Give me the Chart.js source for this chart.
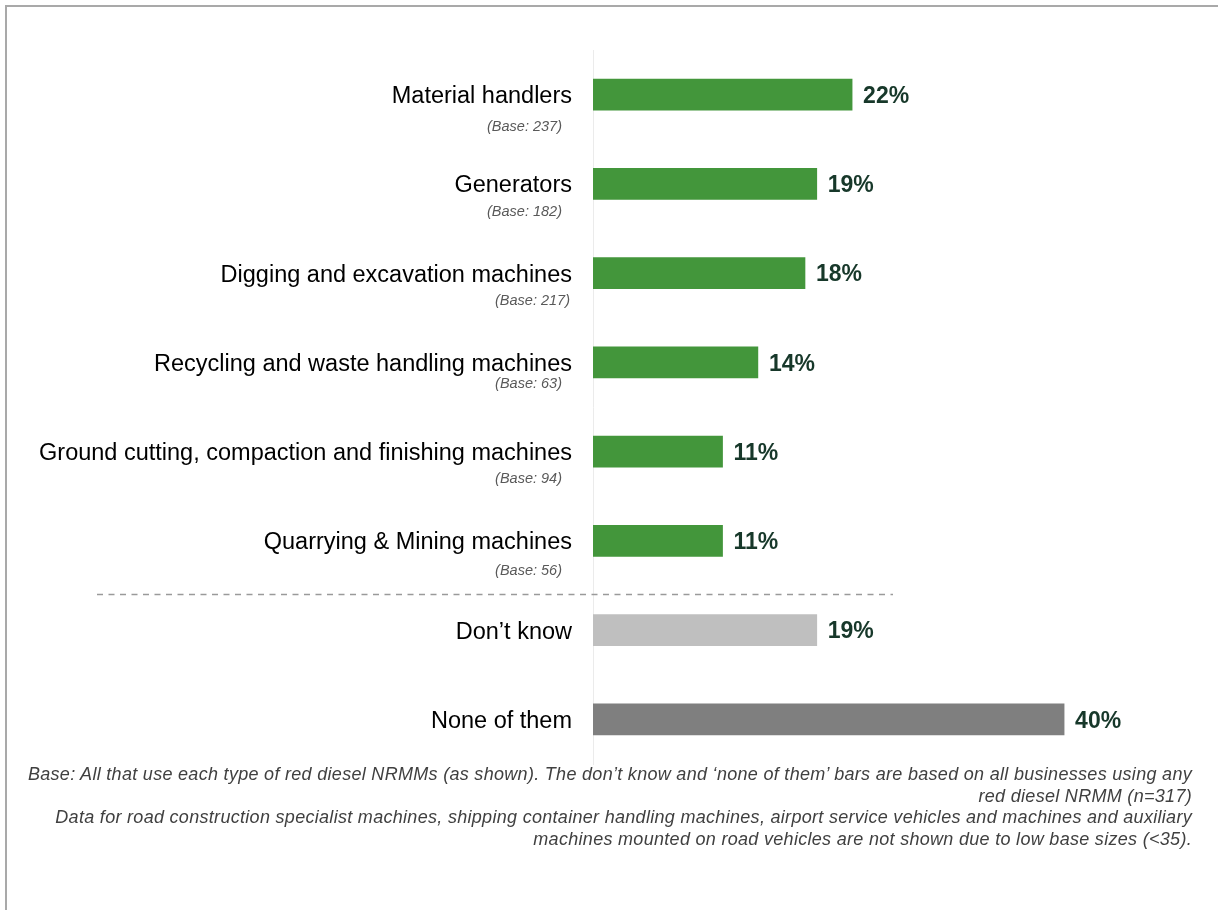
<!DOCTYPE html>
<html>
<head>
<meta charset="utf-8">
<script src="https://cdn.jsdelivr.net/npm/chart.js@4.4.1/dist/chart.umd.min.js"></script>
<style>
  html, body { margin: 0; padding: 0; background: #fff; }
  body { width: 1218px; height: 910px; position: relative; overflow: hidden; font-family: "Liberation Sans", Arial, sans-serif; }
  #frame { position: absolute; left: 5px; top: 5px; width: 1400px; height: 1200px; border-left: 2px solid #a9a9a9; border-top: 2px solid #a9a9a9; box-sizing: border-box; }
  #wrap { position: absolute; left: 0; top: 0; width: 1218px; height: 910px; }
  #note { position: absolute; right: 26px; top: 764px; width: 1200px; text-align: right; font-style: italic; font-size: 18px; letter-spacing: 0.3px; line-height: 21.6px; color: #404040; white-space: nowrap; }
</style>
</head>
<body>
<div id="frame"></div>
<div id="wrap"><canvas id="chart" width="1218" height="910"></canvas></div>
<div id="note">Base: All that use each type of red diesel NRMMs (as shown). The don’t know and ‘none of them’ bars are based on all businesses using any<br>red diesel NRMM (n=317)<br>Data for road construction specialist machines, shipping container handling machines, airport service vehicles and machines and auxiliary<br>machines mounted on road vehicles are not shown due to low base sizes (&lt;35).</div>
<script>
// Machine types and share of businesses (%)
const categories = [
  "Material handlers",
  "Generators",
  "Digging and excavation machines",
  "Recycling and waste handling machines",
  "Ground cutting, compaction and finishing machines",
  "Quarrying & Mining machines",
  "Don’t know",
  "None of them"
];
const values = [22, 19, 18, 14, 11, 11, 19, 40];
const baseSizes = ["(Base: 237)", "(Base: 182)", "(Base: 217)", "(Base: 63)", "(Base: 94)", "(Base: 56)", null, null];

const GREEN = "#43963B";
const barColors = categories.map((c, i) => i < 6 ? GREEN : (i === 6 ? "#BFBFBF" : "#7F7F7F"));

// Sub-label placement under each category name
const baseLayout = [
  { dy: 32, right: 562 },
  { dy: 28, right: 562 },
  { dy: 28, right: 570 },
  { dy: 22, right: 562 },
  { dy: 27, right: 562 },
  { dy: 30, right: 562 }
];

const extras = {
  id: "extras",
  afterDatasetsDraw(chart) {
    const { ctx } = chart;
    const y = chart.scales.y;
    const meta = chart.getDatasetMeta(0);

    // value labels at bar ends
    ctx.save();
    ctx.font = "bold 23px 'Liberation Sans', Arial, sans-serif";
    ctx.fillStyle = "#17382A";
    ctx.textAlign = "left";
    ctx.textBaseline = "middle";
    meta.data.forEach((bar, i) => {
      ctx.fillText(values[i] + "%", bar.x + 11, bar.y + 2);
    });
    ctx.restore();

    // base sizes beneath the category names
    ctx.save();
    ctx.font = "italic 14.5px 'Liberation Sans', Arial, sans-serif";
    ctx.fillStyle = "#595959";
    ctx.textAlign = "right";
    ctx.textBaseline = "middle";
    baseSizes.forEach((b, i) => {
      if (!b) return;
      const lay = baseLayout[i];
      ctx.fillText(b, lay.right, y.getPixelForValue(i) + lay.dy);
    });
    ctx.restore();

    // dashed separator between machine types and the overall answers
    const sepY = Math.round((y.getPixelForValue(5) + y.getPixelForValue(6)) / 2) + 8.5;
    ctx.save();
    ctx.strokeStyle = "#9a9a9a";
    ctx.lineWidth = 1.5;
    ctx.setLineDash([6, 5.5]);
    ctx.beginPath();
    ctx.moveTo(97, sepY);
    ctx.lineTo(893, sepY);
    ctx.stroke();
    ctx.restore();
  }
};

new Chart(document.getElementById("chart"), {
  type: "bar",
  data: {
    labels: categories,
    datasets: [{
      data: values,
      backgroundColor: barColors,
      borderWidth: 0,
      barThickness: 31
    }]
  },
  options: {
    indexAxis: "y",
    responsive: false,
    animation: false,
    layout: { padding: { top: 50, bottom: 146, right: 95, left: 0 } },
    plugins: { legend: { display: false }, tooltip: { enabled: false } },
    scales: {
      x: { display: false, min: 0, max: 45 },
      y: {
        grid: { display: false, drawTicks: false },
        border: { display: true, color: "#ebebeb", width: 1 },
        ticks: {
          padding: 21,
          labelOffset: 2,
          color: "#000",
          font: { family: "'Liberation Sans', Arial, sans-serif", size: 23.5 }
        },
        afterFit(scale) { scale.width = 593; }
      }
    }
  },
  plugins: [extras]
});
</script>
</body>
</html>
